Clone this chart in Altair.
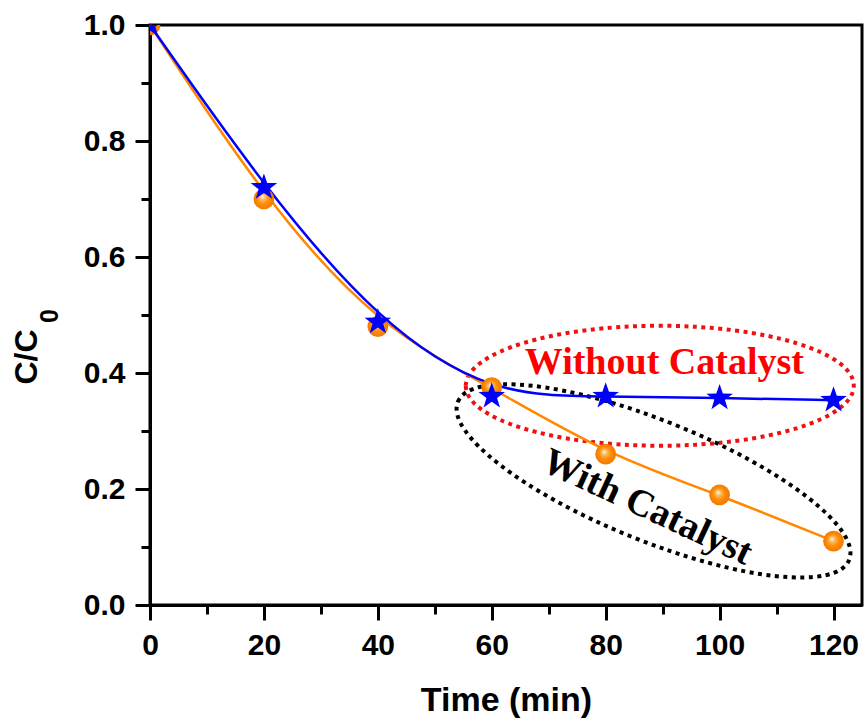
import altair as alt
import pandas as pd

# ---- data ----
time = [0, 20, 40, 60, 80, 100, 120]
with_catalyst = [1.0, 0.70, 0.48, 0.375, 0.26, 0.19, 0.11]
without_catalyst = [1.0, 0.72, 0.488, 0.36, 0.36, 0.357, 0.353]

x_ticks = [0, 10, 20, 30, 40, 50, 60, 70, 80, 90, 100, 110, 120]
y_ticks = [0.0, 0.1, 0.2, 0.3, 0.4, 0.5, 0.6, 0.7, 0.8, 0.9, 1.0]

ann_labels = ["Without Catalyst", "With Catalyst"]
ann_x = [90.3, 87.3]
ann_y = [0.417, 0.168]

ell_x = [89.5, 88.4]
ell_y = [0.378, 0.214]

y_title_main = "C/C"
y_title_sub = "0"
x_title = "Time (min)"

df_with = pd.DataFrame({"t": time, "c": with_catalyst})
df_without = pd.DataFrame({"t": time, "c": without_catalyst})

K = 0.5523


def ellipse_path(k):
    a = K
    b = k * K
    return (f"M -1 0 C -1 {-b} {-a} {-k} 0 {-k} C {a} {-k} 1 {-b} 1 0 "
            f"C 1 {b} {a} {k} 0 {k} C {-a} {k} -1 {b} -1 0 Z")


STAR = ("M 0 -1 L 0.235 -0.324 L 0.951 -0.309 L 0.38 0.124 L 0.588 0.809 "
        "L 0 0.4 L -0.588 0.809 L -0.38 0.124 L -0.951 -0.309 L -0.235 -0.324 Z")

xscale = alt.Scale(domain=[0, 125], nice=False, zero=False)
yscale = alt.Scale(domain=[0, 1.0], nice=False, zero=False)

x_axis = alt.Axis(
    values=x_ticks,
    labelExpr="datum.value % 20 === 0 ? datum.label : ''",
    tickSize={"condition": {"test": "datum.value % 20 === 0", "value": 15}, "value": 9},
    title=x_title,
    titleX=356, titleY=95, titleBaseline="middle", titleAlign="center",
    labelPadding=10,
)
y_axis = alt.Axis(
    values=y_ticks,
    labelExpr="round(datum.value*10) % 2 === 0 ? format(datum.value, '.1f') : ''",
    tickSize={"condition": {"test": "round(datum.value*10) % 2 === 0", "value": 15}, "value": 9},
    title="",
    labelPadding=10,
)

X = alt.X("t:Q", scale=xscale, axis=x_axis)
Y = alt.Y("c:Q", scale=yscale, axis=y_axis)

orange = "#FF8800"
blue = "#0000FF"

line_with = alt.Chart(df_with).mark_line(
    interpolate="basis", color=orange, strokeWidth=2.5
).encode(x=X, y=Y)
line_without = alt.Chart(df_without).mark_line(
    interpolate="basis", color=blue, strokeWidth=2.5
).encode(x=X, y=Y)

sphere_fill = alt.RadialGradient(
    gradient="radial",
    x1=0.42, y1=0.38, r1=0.0,
    x2=0.5, y2=0.5, r2=0.5,
    stops=[
        alt.GradientStop(offset=0.0, color="#FFFFFF"),
        alt.GradientStop(offset=0.22, color="#FFC070"),
        alt.GradientStop(offset=0.55, color="#FF9008"),
        alt.GradientStop(offset=1.0, color="#F07800"),
    ],
)
pts_with = alt.Chart(df_with).mark_point(
    shape="circle", filled=True, fill=sphere_fill, size=430, opacity=1,
    strokeWidth=0, clip=True
).encode(x=X, y=Y)
pts_without = alt.Chart(df_without).mark_point(
    shape=STAR, filled=True, fill=blue, size=780, opacity=1,
    strokeWidth=0, clip=True
).encode(x=X, y=Y)

df_ell_red = pd.DataFrame({"t": [ell_x[0]], "c": [ell_y[0]]})
df_ell_black = pd.DataFrame({"t": [ell_x[1]], "c": [ell_y[1]]})

ell_red = alt.Chart(df_ell_red).mark_point(
    shape=ellipse_path(60 / 194), size=(2 * 194) ** 2, filled=False,
    stroke="#EE1111", strokeWidth=4, strokeDash=[4, 4.5], opacity=1
).encode(x=X, y=Y)
ell_black = alt.Chart(df_ell_black).mark_point(
    shape=ellipse_path(60 / 211), size=(2 * 211) ** 2, filled=False,
    stroke="#000000", strokeWidth=4, strokeDash=[4, 4.5], opacity=1, angle=22
).encode(x=X, y=Y)

df_t1 = pd.DataFrame({"t": [ann_x[0]], "c": [ann_y[0]], "label": [ann_labels[0]]})
df_t2 = pd.DataFrame({"t": [ann_x[1]], "c": [ann_y[1]], "label": [ann_labels[1]]})

txt1 = alt.Chart(df_t1).mark_text(
    font="Liberation Serif", fontWeight="bold", fontSize=38, color="#FF0000",
    align="center", baseline="middle"
).encode(x=X, y=Y, text="label:N")
txt2 = alt.Chart(df_t2).mark_text(
    font="Liberation Serif", fontWeight="bold", fontSize=38, color="#000000",
    align="center", baseline="middle", angle=25
).encode(x=X, y=Y, text="label:N")

# y-axis title with a real subscript
df_yt = pd.DataFrame({"main": [y_title_main], "sub": [y_title_sub]})
ytitle_main = alt.Chart(df_yt).mark_text(
    font="Liberation Sans", fontWeight="bold", fontSize=32, color="black",
    align="center", baseline="middle", angle=270
).encode(x=alt.value(-123), y=alt.value(332), text="main:N")
ytitle_sub = alt.Chart(df_yt).mark_text(
    font="Liberation Sans", fontWeight="bold", fontSize=25, color="black",
    align="center", baseline="middle", angle=270
).encode(x=alt.value(-100), y=alt.value(291), text="sub:N")

chart = alt.layer(
    ell_red, ell_black, line_with, line_without, pts_with, pts_without, txt1, txt2,
    ytitle_main, ytitle_sub
).properties(
    width=712, height=580,
    autosize=alt.AutoSizeParams(type="none"),
    padding={"left": 150, "top": 25, "right": 5, "bottom": 120},
).configure_view(
    stroke="black", strokeWidth=3
).configure_axis(
    grid=False,
    domainColor="black", domainWidth=3,
    tickColor="black", tickWidth=3,
    labelFont="Liberation Sans", labelFontWeight="bold", labelFontSize=30, labelColor="black",
    titleFont="Liberation Sans", titleFontWeight="bold", titleFontSize=34, titleColor="black",
    labelFlush=False, labelOverlap=False,
)

chart.save("out.html", embed_options={"renderer": "svg", "actions": False})
